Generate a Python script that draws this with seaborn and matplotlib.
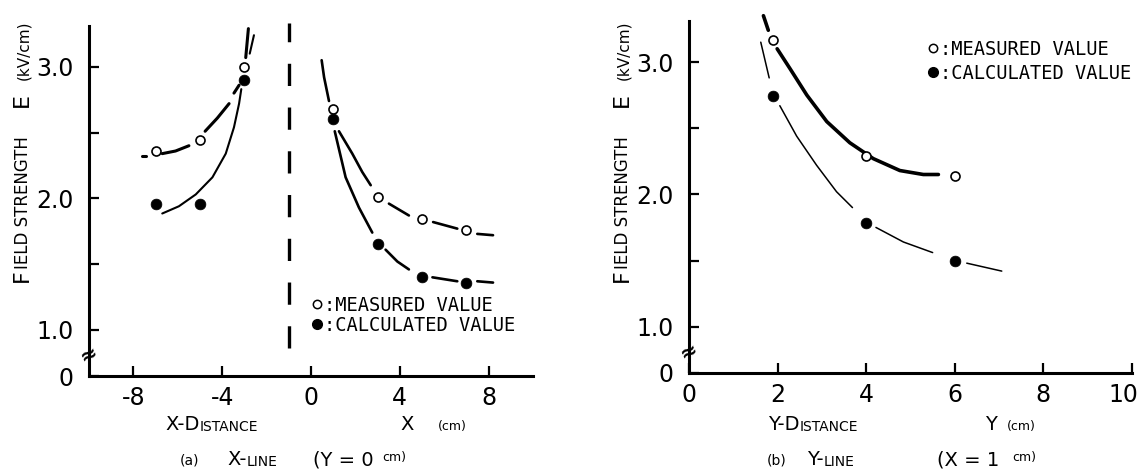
import matplotlib
matplotlib.use('Agg')
import matplotlib.pyplot as plt
import matplotlib.transforms as mtransforms
import seaborn as sns
from matplotlib.lines import Line2D

# (a) X-line (Y = 0 cm): field strength in kV/cm
a_x = [-7, -5, -3, 1, 3, 5, 7]
a_meas = [2.36, 2.44, 3.00, 2.68, 2.01, 1.84, 1.76]
a_calc = [1.96, 1.96, 2.90, 2.60, 1.65, 1.40, 1.36]

# (b) Y-line (X = 1 cm)
b_x = [1.9, 4.0, 6.0]
b_meas = [3.17, 2.29, 2.14]
b_calc = [2.74, 1.78, 1.50]

# hand drawn fitted curves (gaps kept)
a_meas_left = [
    ([-7.63, -7.42], [2.32, 2.32]),
    ([-6.70, -6.10, -5.50], [2.34, 2.36, 2.40]),
    ([-4.77, -4.22, -3.69], [2.51, 2.61, 2.72]),
    ([-3.47, -3.24], [2.80, 2.86]),
    ([-2.94, -2.82], [3.07, 3.29]),
]
a_calc_left = [
    ([-6.70, -5.95, -5.19, -4.44, -3.84, -3.47, -3.24, -3.14],
     [1.885, 1.94, 2.03, 2.16, 2.34, 2.54, 2.72, 2.83]),
    ([-2.76, -2.57], [3.10, 3.24]),
]
a_meas_right = [
    ([0.48, 0.59, 0.81], [3.05, 2.92, 2.74]),
    ([1.26, 1.86, 2.31, 2.69], [2.51, 2.34, 2.20, 2.10]),
    ([3.51, 4.41], [1.96, 1.87]),
    ([5.50, 6.59], [1.82, 1.77]),
    ([7.49, 8.20], [1.73, 1.72]),
]
a_calc_right = [
    ([1.07, 1.56, 2.16, 2.76], [2.51, 2.16, 1.93, 1.74]),
    ([3.36, 3.89, 4.41], [1.61, 1.52, 1.46]),
    ([5.47, 6.59], [1.40, 1.37]),
    ([7.49, 8.20], [1.37, 1.36]),
]
b_meas_curve = [
    ([1.68, 1.79], [3.35, 3.24]),
    ([1.99, 2.28, 2.66, 3.11, 3.63, 4.16, 4.76, 5.29, 5.63],
     [3.10, 2.95, 2.75, 2.55, 2.39, 2.27, 2.18, 2.15, 2.15]),
]
b_calc_curve = [
    ([1.62, 1.81], [3.15, 2.88]),
    ([2.05, 2.43, 2.88, 3.33, 3.69], [2.67, 2.44, 2.22, 2.02, 1.90]),
    ([4.22, 4.84, 5.50], [1.75, 1.64, 1.56]),
    ([6.27, 7.06], [1.48, 1.42]),
]

# dashed divider in (a)
div_x = -1.0
div_y = [0.86, 3.33]

y_ticks = [0.65, 1.0, 2.0, 3.0]
y_ticklabels = ['0', '1.0', '2.0', '3.0']
y_minor = [1.5, 2.5]
a_xticks = [-8, -4, 0, 4, 8]
b_xticks = [0, 2, 4, 6, 8, 10]

sns.set_style('ticks')
plt.rcParams['font.family'] = ['DejaVu Sans']
plt.rcParams.update({'text.color': 'black', 'axes.edgecolor': 'black',
                     'axes.labelcolor': 'black', 'xtick.color': 'black',
                     'ytick.color': 'black', 'lines.scale_dashes': False})
MONO = 'DejaVu Sans Mono'

W, H = 1141, 474
fig = plt.figure(figsize=(W / 100, H / 100), dpi=100)
ax_a = fig.add_axes([89 / W, (H - 376) / H, 444 / W, 350 / H])
ax_b = fig.add_axes([689 / W, (H - 373) / H, 443 / W, 352 / H])


def draw_curve(ax, segs, lw):
    for xs, ys in segs:
        sns.lineplot(x=xs, y=ys, ax=ax, color='black', lw=lw, sort=False,
                     estimator=None, clip_on=False, solid_capstyle='round')


def draw_points(ax, xs, meas, calc):
    sns.scatterplot(x=xs, y=meas, ax=ax, marker='o', s=42, color='white',
                    edgecolor='black', linewidth=1.2, zorder=4, clip_on=False)
    sns.scatterplot(x=xs, y=calc, ax=ax, marker='o', s=60, color='black',
                    edgecolor='black', linewidth=0.5, zorder=4, clip_on=False)


def caps(ax, x, y, parts, rot=0, family='DejaVu Sans'):
    # fake small caps: pieces of text chained one after the other
    prev = None
    for txt, size in parts:
        if prev is None:
            prev = ax.annotate(txt, xy=(x, H - y), xycoords='figure pixels',
                               fontsize=size, ha='left', va='baseline',
                               rotation=rot, rotation_mode='anchor',
                               annotation_clip=False, family=family)
        else:
            prev = ax.annotate(txt, xy=(1, 1) if rot else (1, 0), xycoords=prev,
                               fontsize=size, ha='left', va='bottom',
                               rotation=rot, rotation_mode='anchor',
                               annotation_clip=False, family=family)
    return prev


draw_curve(ax_a, a_meas_left, 2.2)
draw_curve(ax_a, a_calc_left, 1.5)
draw_curve(ax_a, a_meas_right, 1.9)
draw_curve(ax_a, a_calc_right, 1.9)
draw_points(ax_a, a_x, a_meas, a_calc)
ax_a.plot([div_x, div_x], div_y, color='black', lw=2.4,
          linestyle=(0, (16, 15.5)), clip_on=False)

draw_curve(ax_b, b_meas_curve, 2.6)
draw_curve(ax_b, b_calc_curve, 1.1)
draw_points(ax_b, b_x, b_meas, b_calc)

for ax, xlim, xt in [(ax_a, (-10, 10), a_xticks), (ax_b, (0, 10), b_xticks)]:
    ax.set_xlim(*xlim)
    ax.set_ylim(0.65, 3.31)
    sns.despine(ax=ax)
    for side in ['left', 'bottom']:
        ax.spines[side].set_linewidth(2.2)
    ax.set_xticks(xt)
    ax.set_xticklabels([str(v) for v in xt], fontsize=17)
    ax.set_yticks(y_ticks)
    ax.set_yticklabels(y_ticklabels, fontsize=17)
    ax.set_yticks(y_minor, minor=True)
    ax.tick_params(which='both', direction='in', length=7, width=1.6)
    ax.tick_params(axis='y', pad=11)
    ax.tick_params(axis='x', pad=7)
    ax.set_xlabel('')
    ax.set_ylabel('')
    # axis break mark
    ax.text(0, 0.81, '\u2248', transform=ax.get_yaxis_transform(),
            ha='center', va='center', fontsize=15, fontweight='bold',
            rotation=25)

# last label of (b) sits a little left of its tick, inside the page
last = ax_b.get_xticklabels()[-1]
last.set_transform(last.get_transform() +
                   mtransforms.ScaledTranslation(-9 / 100, 0, fig.dpi_scale_trans))

handles = [Line2D([], [], marker='o', ls='', mfc='white', mec='black', ms=6, mew=1.1),
           Line2D([], [], marker='o', ls='', mfc='black', mec='black', ms=7)]
labels = [':MEASURED VALUE', ':CALCULATED VALUE']
ax_a.legend(handles, labels, loc='upper left', bbox_to_anchor=(312 / W, 1 - 296 / H),
            bbox_transform=fig.transFigure, frameon=False, handlelength=0.5,
            handletextpad=0.15, labelspacing=0.05, borderpad=0, borderaxespad=0,
            prop={'family': MONO, 'size': 13.5})
ax_b.legend(handles, labels, loc='upper left', bbox_to_anchor=(928 / W, 1 - 40 / H),
            bbox_transform=fig.transFigure, frameon=False, handlelength=0.5,
            handletextpad=0.15, labelspacing=0.25, borderpad=0, borderaxespad=0,
            prop={'family': MONO, 'size': 13.5})

# y labels (rotated, small caps)
for x0 in [28, 628]:
    caps(ax_a, x0, 282, [('F', 16), ('IELD STRENGTH', 12)], rot=90)
    caps(ax_a, x0, 107, [('E', 16)], rot=90)
    caps(ax_a, x0, 80, [('(kV/cm)', 11)], rot=90)

# x labels
caps(ax_a, 165, 430, [('X-D', 14), ('ISTANCE', 10)])
caps(ax_a, 400, 430, [('X', 14)])
caps(ax_a, 438, 430, [('(cm)', 9)])
caps(ax_b, 768, 430, [('Y-D', 14), ('ISTANCE', 10)])
caps(ax_b, 985, 430, [('Y', 14)])
caps(ax_b, 1007, 430, [('(cm)', 9)])

# captions
caps(ax_a, 180, 464, [('(a)', 10)])
caps(ax_a, 227, 465, [('X-', 14), ('LINE', 10)])
caps(ax_a, 313, 465, [('(Y = 0', 14)])
caps(ax_a, 382, 461, [('cm)', 9)])
caps(ax_b, 767, 464, [('(b)', 10)])
caps(ax_b, 807, 465, [('Y-', 14), ('LINE', 10)])
caps(ax_b, 937, 465, [('(X = 1', 14)])
caps(ax_b, 1012, 461, [('cm)', 9)])

fig.savefig('out.png', dpi=100)
